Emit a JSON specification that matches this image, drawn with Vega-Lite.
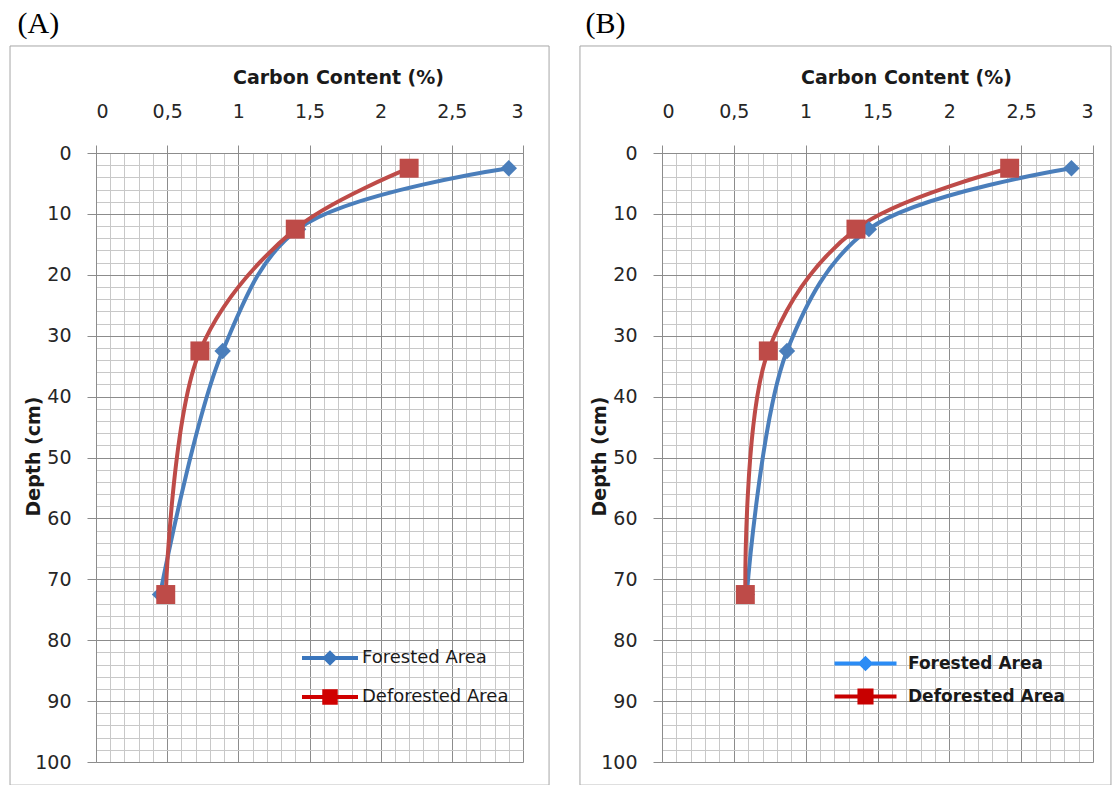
{
  "$schema": "https://vega.github.io/schema/vega-lite/v6.json",
  "background": "white",
  "padding": {"left": 9, "top": 9, "right": 0, "bottom": 0},
  "datasets": {
    "a": [
      {"series": "Forested Area", "carbon": 2.9, "depth": 2.5},
      {"series": "Forested Area", "carbon": 1.42, "depth": 12.5},
      {"series": "Forested Area", "carbon": 0.89, "depth": 32.5},
      {"series": "Forested Area", "carbon": 0.45, "depth": 72.5},
      {"series": "Deforested Area", "carbon": 2.2, "depth": 2.5},
      {"series": "Deforested Area", "carbon": 1.4, "depth": 12.5},
      {"series": "Deforested Area", "carbon": 0.73, "depth": 32.5},
      {"series": "Deforested Area", "carbon": 0.49, "depth": 72.5}
    ],
    "b": [
      {"series": "Forested Area", "carbon": 2.85, "depth": 2.5},
      {"series": "Forested Area", "carbon": 1.44, "depth": 12.5},
      {"series": "Forested Area", "carbon": 0.87, "depth": 32.5},
      {"series": "Forested Area", "carbon": 0.59, "depth": 72.5},
      {"series": "Deforested Area", "carbon": 2.42, "depth": 2.5},
      {"series": "Deforested Area", "carbon": 1.35, "depth": 12.5},
      {"series": "Deforested Area", "carbon": 0.74, "depth": 32.5},
      {"series": "Deforested Area", "carbon": 0.58, "depth": 72.5}
    ],
    "frame": [{"part": "frame"}]
  },
  "hconcat": [
    {
      "width": 427,
      "height": 609,
      "title": {"text": "(A)", "anchor": "start", "frame": "bounds", "font": "Liberation Serif", "fontSize": 30, "fontWeight": "normal", "color": "#000000", "offset": 6, "dx": 8},
      "layer": [
        {
          "data": {"name": "frame"},
          "mark": {"type": "rect", "fillOpacity": 0, "stroke": "#a6a6a6", "strokeWidth": 1, "clip": false},
          "encoding": {
            "x": {"datum": -0.604, "type": "quantitative", "scale": {"domain": [0, 3]}, "axis": null},
            "x2": {"datum": 3.183},
            "y": {"datum": -17.57, "type": "quantitative", "scale": {"domain": [0, 100], "reverse": true}, "axis": null},
            "y2": {"datum": 103.8}
          }
        },
        {
          "data": {"name": "a"},
          "mark": {"type": "point", "opacity": 0},
          "encoding": {
            "x": {"field": "carbon", "type": "quantitative", "scale": {"domain": [0, 3]},
              "axis": {"orient": "bottom", "values": [0.1,0.2,0.3,0.4,0.6,0.7,0.8,0.9,1.1,1.2,1.3,1.4,1.6,1.7,1.8,1.9,2.1,2.2,2.3,2.4,2.6,2.7,2.8,2.9], "grid": true, "gridColor": "#c8c8c8", "gridWidth": 1, "labels": false, "ticks": false, "domain": false, "title": null}},
            "y": {"field": "depth", "type": "quantitative", "scale": {"domain": [0, 100], "reverse": true},
              "axis": {"orient": "right", "values": [2,4,6,8,12,14,16,18,22,24,26,28,32,34,36,38,42,44,46,48,52,54,56,58,62,64,66,68,72,74,76,78,82,84,86,88,92,94,96,98], "grid": true, "gridColor": "#c8c8c8", "gridWidth": 1, "labels": false, "ticks": false, "domain": false, "title": null}}
          }
        },
        {
          "data": {"name": "a"},
          "mark": {"type": "line", "opacity": 0},
          "encoding": {
            "x": {"field": "carbon", "type": "quantitative", "scale": {"domain": [0, 3]},
              "axis": {"orient": "top", "values": [0, 0.5, 1, 1.5, 2, 2.5, 3], "grid": true, "gridColor": "#8c8c8c", "gridWidth": 1,
                "labelExpr": "replace(format(datum.value, '~g'), '.', ',')", "labelFont": "DejaVu Sans", "labelFontSize": 19, "labelColor": "#262626", "labelBaseline": "middle", "labelPadding": 34,
                "tickSize": 8, "tickColor": "#8c8c8c", "domainColor": "#8c8c8c",
                "title": "Carbon Content (%)", "titleFont": "DejaVu Sans", "titleFontSize": 19, "titleFontWeight": "bold", "titleColor": "#1a1a1a", "titleX": 242, "titleY": -76, "titleBaseline": "middle", "titleAlign": "center"}},
            "y": {"field": "depth", "type": "quantitative", "scale": {"domain": [0, 100], "reverse": true},
              "axis": {"orient": "left", "values": [0,10,20,30,40,50,60,70,80,90,100], "grid": true, "gridColor": "#8c8c8c", "gridWidth": 1,
                "labelFont": "DejaVu Sans", "labelFontSize": 19, "labelColor": "#262626", "labelPadding": 16,
                "tickSize": 9, "tickColor": "#8c8c8c", "domainColor": "#8c8c8c",
                "title": "Depth (cm)", "titleFont": "DejaVu Sans", "titleFontSize": 19, "titleFontWeight": "bold", "titleColor": "#1a1a1a", "titleX": -63, "titleY": 303, "titleAngle": -90, "titleBaseline": "middle", "titleAlign": "center"}},
            "color": {"field": "series", "type": "nominal",
              "scale": {"domain": ["Forested Area", "Deforested Area"], "range": ["#3a76bd", "#d00000"]},
              "legend": {"title": null, "orient": "none", "legendX": 218, "legendY": 489, "padding": 0, "direction": "vertical",
                "symbolSize": 784, "symbolStrokeWidth": 4, "symbolOpacity": 1, "labelFont": "DejaVu Sans", "labelFontSize": 18, "labelColor": "#1a1a1a", "labelOffset": 16, "rowPadding": 10,
                "encode": {"symbols": {"update": {
                  "shape": {"signal": "datum.value === 'Forested Area' ? 'M-2,0H2M0,-0.35L0.35,0L0,0.35L-0.35,0ZM0,-0.2V0.2' : 'M-2,0H2M-0.41,-0.41H0.41V0.41H-0.41ZM-0.2,-0.2H0.2V0.2H-0.2ZM0,-0.2V0.2'"},
                  "strokeWidth": {"value": 4},
                  "opacity": {"value": 1}
                }}}}},
            "order": {"field": "depth", "type": "quantitative"}
          }
        },
        {
          "data": {"name": "a"},
          "transform": [{"filter": "datum.series === 'Forested Area'"}],
          "mark": {"type": "line", "interpolate": "catmull-rom", "strokeWidth": 4, "color": "#4a7ebb"},
          "encoding": {
            "x": {"field": "carbon", "type": "quantitative", "scale": {"domain": [0, 3]}, "axis": null},
            "y": {"field": "depth", "type": "quantitative", "scale": {"domain": [0, 100], "reverse": true}, "axis": null},
            "order": {"field": "depth", "type": "quantitative"}
          }
        },
        {
          "data": {"name": "a"},
          "transform": [{"filter": "datum.series === 'Deforested Area'"}],
          "mark": {"type": "line", "interpolate": "catmull-rom", "strokeWidth": 4, "color": "#be4b48"},
          "encoding": {
            "x": {"field": "carbon", "type": "quantitative", "scale": {"domain": [0, 3]}, "axis": null},
            "y": {"field": "depth", "type": "quantitative", "scale": {"domain": [0, 100], "reverse": true}, "axis": null},
            "order": {"field": "depth", "type": "quantitative"}
          }
        },
        {
          "data": {"name": "a"},
          "transform": [{"filter": "datum.series === 'Forested Area'"}],
          "mark": {"type": "point", "filled": true, "opacity": 1, "shape": "diamond", "size": 270, "color": "#4a7ebb"},
          "encoding": {
            "x": {"field": "carbon", "type": "quantitative", "scale": {"domain": [0, 3]}, "axis": null},
            "y": {"field": "depth", "type": "quantitative", "scale": {"domain": [0, 100], "reverse": true}, "axis": null}
          }
        },
        {
          "data": {"name": "a"},
          "transform": [{"filter": "datum.series === 'Deforested Area'"}],
          "mark": {"type": "point", "filled": true, "opacity": 1, "shape": "square", "size": 360, "color": "#be4b48"},
          "encoding": {
            "x": {"field": "carbon", "type": "quantitative", "scale": {"domain": [0, 3]}, "axis": null},
            "y": {"field": "depth", "type": "quantitative", "scale": {"domain": [0, 100], "reverse": true}, "axis": null}
          }
        }
      ],
      "resolve": {"axis": {"x": "independent", "y": "independent"}}
    },
    {
      "width": 431,
      "height": 609,
      "title": {"text": "(B)", "anchor": "start", "frame": "bounds", "font": "Liberation Serif", "fontSize": 30, "fontWeight": "normal", "color": "#000000", "offset": 6, "dx": 6},
      "layer": [
        {
          "data": {"name": "frame"},
          "mark": {"type": "rect", "fillOpacity": 0, "stroke": "#a6a6a6", "strokeWidth": 1, "clip": false},
          "encoding": {
            "x": {"datum": -0.571, "type": "quantitative", "scale": {"domain": [0, 3]}, "axis": null},
            "x2": {"datum": 3.125},
            "y": {"datum": -17.57, "type": "quantitative", "scale": {"domain": [0, 100], "reverse": true}, "axis": null},
            "y2": {"datum": 103.8}
          }
        },
        {
          "data": {"name": "b"},
          "mark": {"type": "point", "opacity": 0},
          "encoding": {
            "x": {"field": "carbon", "type": "quantitative", "scale": {"domain": [0, 3]},
              "axis": {"orient": "bottom", "values": [0.1,0.2,0.3,0.4,0.6,0.7,0.8,0.9,1.1,1.2,1.3,1.4,1.6,1.7,1.8,1.9,2.1,2.2,2.3,2.4,2.6,2.7,2.8,2.9], "grid": true, "gridColor": "#c8c8c8", "gridWidth": 1, "labels": false, "ticks": false, "domain": false, "title": null}},
            "y": {"field": "depth", "type": "quantitative", "scale": {"domain": [0, 100], "reverse": true},
              "axis": {"orient": "right", "values": [2,4,6,8,12,14,16,18,22,24,26,28,32,34,36,38,42,44,46,48,52,54,56,58,62,64,66,68,72,74,76,78,82,84,86,88,92,94,96,98], "grid": true, "gridColor": "#c8c8c8", "gridWidth": 1, "labels": false, "ticks": false, "domain": false, "title": null}}
          }
        },
        {
          "data": {"name": "b"},
          "mark": {"type": "line", "opacity": 0},
          "encoding": {
            "x": {"field": "carbon", "type": "quantitative", "scale": {"domain": [0, 3]},
              "axis": {"orient": "top", "values": [0, 0.5, 1, 1.5, 2, 2.5, 3], "grid": true, "gridColor": "#8c8c8c", "gridWidth": 1,
                "labelExpr": "replace(format(datum.value, '~g'), '.', ',')", "labelFont": "DejaVu Sans", "labelFontSize": 19, "labelColor": "#262626", "labelBaseline": "middle", "labelPadding": 34,
                "tickSize": 8, "tickColor": "#8c8c8c", "domainColor": "#8c8c8c",
                "title": "Carbon Content (%)", "titleFont": "DejaVu Sans", "titleFontSize": 19, "titleFontWeight": "bold", "titleColor": "#1a1a1a", "titleX": 244, "titleY": -76, "titleBaseline": "middle", "titleAlign": "center"}},
            "y": {"field": "depth", "type": "quantitative", "scale": {"domain": [0, 100], "reverse": true},
              "axis": {"orient": "left", "values": [0,10,20,30,40,50,60,70,80,90,100], "grid": true, "gridColor": "#8c8c8c", "gridWidth": 1,
                "labelFont": "DejaVu Sans", "labelFontSize": 19, "labelColor": "#262626", "labelPadding": 16,
                "tickSize": 9, "tickColor": "#8c8c8c", "domainColor": "#8c8c8c",
                "title": "Depth (cm)", "titleFont": "DejaVu Sans", "titleFontSize": 19, "titleFontWeight": "bold", "titleColor": "#1a1a1a", "titleX": -63, "titleY": 303, "titleAngle": -90, "titleBaseline": "middle", "titleAlign": "center"}},
            "color": {"field": "series", "type": "nominal",
              "scale": {"domain": ["Forested Area", "Deforested Area"], "range": ["#2b8cf5", "#c80000"]},
              "legend": {"title": null, "orient": "none", "legendX": 186, "legendY": 493, "padding": 0, "direction": "vertical",
                "symbolSize": 961, "symbolStrokeWidth": 4, "symbolOpacity": 1, "labelFont": "DejaVu Sans", "labelFontSize": 17, "labelFontWeight": "bold", "labelColor": "#1a1a1a", "labelOffset": 25, "rowPadding": 2,
                "encode": {"symbols": {"update": {
                  "shape": {"signal": "datum.value === 'Forested Area' ? 'M-2,0H2M0,-0.32L0.32,0L0,0.32L-0.32,0ZM0,-0.2V0.2' : 'M-2,0H2M-0.39,-0.39H0.39V0.39H-0.39ZM-0.18,-0.18H0.18V0.18H-0.18ZM0,-0.18V0.18'"},
                  "strokeWidth": {"value": 4},
                  "opacity": {"value": 1}
                }}}}},
            "order": {"field": "depth", "type": "quantitative"}
          }
        },
        {
          "data": {"name": "b"},
          "transform": [{"filter": "datum.series === 'Forested Area'"}],
          "mark": {"type": "line", "interpolate": "catmull-rom", "strokeWidth": 4, "color": "#4a7ebb"},
          "encoding": {
            "x": {"field": "carbon", "type": "quantitative", "scale": {"domain": [0, 3]}, "axis": null},
            "y": {"field": "depth", "type": "quantitative", "scale": {"domain": [0, 100], "reverse": true}, "axis": null},
            "order": {"field": "depth", "type": "quantitative"}
          }
        },
        {
          "data": {"name": "b"},
          "transform": [{"filter": "datum.series === 'Deforested Area'"}],
          "mark": {"type": "line", "interpolate": "catmull-rom", "strokeWidth": 4, "color": "#be4b48"},
          "encoding": {
            "x": {"field": "carbon", "type": "quantitative", "scale": {"domain": [0, 3]}, "axis": null},
            "y": {"field": "depth", "type": "quantitative", "scale": {"domain": [0, 100], "reverse": true}, "axis": null},
            "order": {"field": "depth", "type": "quantitative"}
          }
        },
        {
          "data": {"name": "b"},
          "transform": [{"filter": "datum.series === 'Forested Area'"}],
          "mark": {"type": "point", "filled": true, "opacity": 1, "shape": "diamond", "size": 270, "color": "#4a7ebb"},
          "encoding": {
            "x": {"field": "carbon", "type": "quantitative", "scale": {"domain": [0, 3]}, "axis": null},
            "y": {"field": "depth", "type": "quantitative", "scale": {"domain": [0, 100], "reverse": true}, "axis": null}
          }
        },
        {
          "data": {"name": "b"},
          "transform": [{"filter": "datum.series === 'Deforested Area'"}],
          "mark": {"type": "point", "filled": true, "opacity": 1, "shape": "square", "size": 360, "color": "#be4b48"},
          "encoding": {
            "x": {"field": "carbon", "type": "quantitative", "scale": {"domain": [0, 3]}, "axis": null},
            "y": {"field": "depth", "type": "quantitative", "scale": {"domain": [0, 100], "reverse": true}, "axis": null}
          }
        }
      ],
      "resolve": {"axis": {"x": "independent", "y": "independent"}}
    }
  ],
  "spacing": 139,
  "bounds": "flush",
  "resolve": {"scale": {"x": "independent", "y": "independent", "color": "independent"}, "legend": {"color": "independent"}},
  "config": {"view": {"stroke": null}, "font": "DejaVu Sans"}
}
